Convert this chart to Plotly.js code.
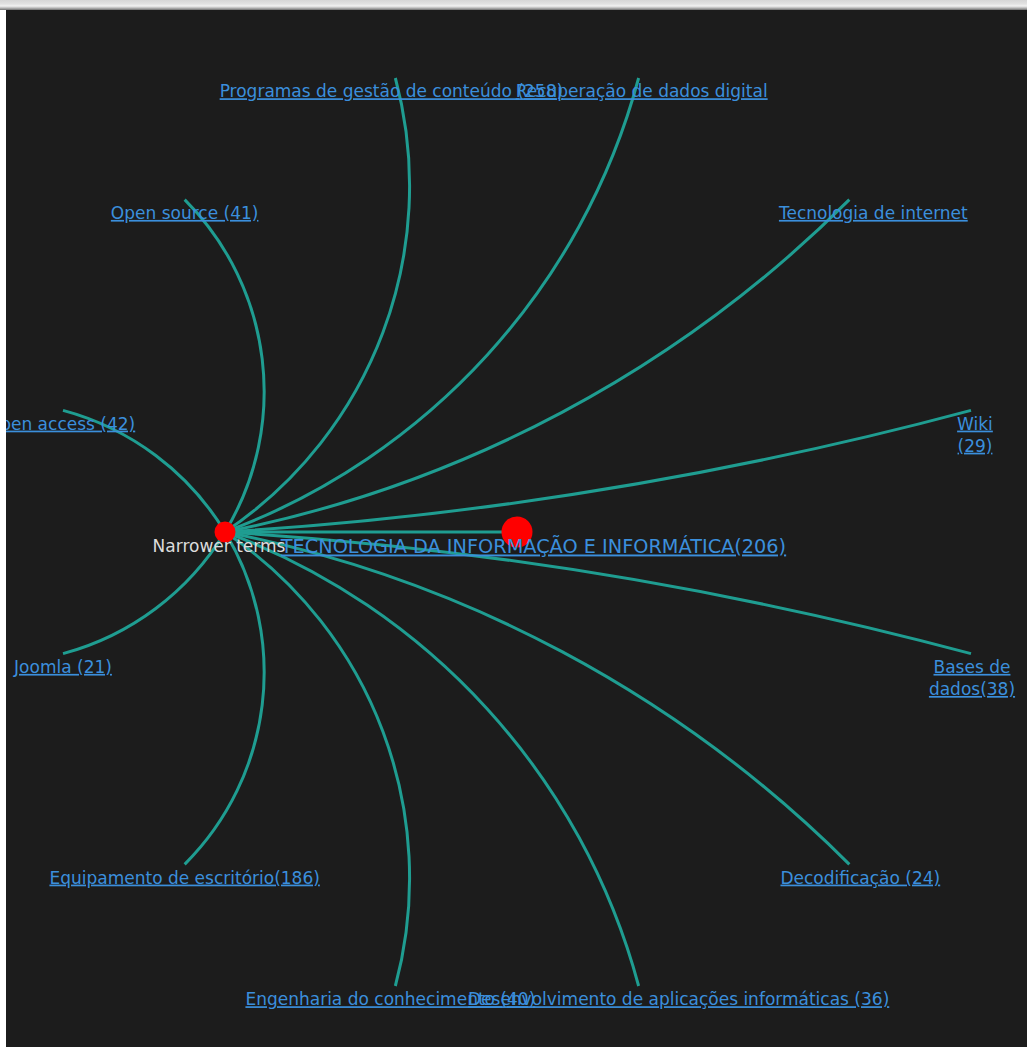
<!DOCTYPE html>
<html>
<head>
<meta charset="utf-8">
<script src="https://cdn.plot.ly/plotly-3.0.1.min.js"></script>
<style>
html,body{margin:0;padding:0;background:#ffffff;width:1027px;height:1047px;overflow:hidden;}
#bar{position:absolute;left:0;top:0;width:1027px;height:10px;background:linear-gradient(#d6d6d6 0px,#e2e2e2 4px,#f2f2f2 6px,#b8b8b8 8px,#707070 10px);}
#chart{position:absolute;left:6px;top:10px;width:1021px;height:1037px;}
</style>
</head>
<body>
<div id="bar"></div>
<div id="chart"></div>
<script>
// ---- data ----
const rootTerm = "TECNOLOGIA DA INFORMAÇÃO E INFORMÁTICA";
const rootCount = 206;
const hubTerm = "Narrower terms";
const terms = [
  "Programas de gestão de conteúdo",
  "Recuperação de dados digital",
  "Tecnologia de internet",
  "Wiki",
  "Bases de dados",
  "Decodificação",
  "Desenvolvimento de aplicações informáticas",
  "Engenharia do conhecimento",
  "Equipamento de escritório",
  "Joomla",
  "Open access",
  "Open source"
];
const counts = [258, null, null, 29, 38, 24, 36, 40, 186, 21, 42, 41];

// ---- layout (pixel frame of the page) ----
const ROOT = [517, 532], HUB = [225, 532];
const RADIUS = 470, START_DEG = -15, STEP_DEG = 30;
const EDGE = "#1f9d91", LINK = "#3b8fdc", FONT = "DejaVu Sans";
const sepBefore = [" ", "", "", "<br>", "", " ", " ", " ", "", " ", " ", " "];
const termBreaks = {4: "Bases de<br>dados"};
const labelDx = [-4, 3, 24, 4, 1, 11, 40, -5, 0, 0, -2, 0];
const LABEL_DY = 6.5;

const leaves = terms.map((t, i) => {
  const a = (START_DEG + STEP_DEG * i) * Math.PI / 180;
  return [ROOT[0] + RADIUS * Math.sin(a), ROOT[1] - RADIUS * Math.cos(a)];
});
const labels = terms.map((t, i) =>
  (termBreaks[i] || t) + (counts[i] != null ? sepBefore[i] + "(" + counts[i] + ")" : ""));

// circular arc from hub to leaf, tangent to the radial direction at the leaf,
// drawn as a cubic Bezier approximation
function arcPath(P, L) {
  const cx = L[0] - P[0], cy = L[1] - P[1];
  const c = Math.hypot(cx, cy);
  const alpha = Math.atan2(cy, cx);
  const beta = Math.atan2(L[1] - ROOT[1], L[0] - ROOT[0]);
  let d = alpha - beta;
  while (d > Math.PI) d -= 2 * Math.PI;
  while (d < -Math.PI) d += 2 * Math.PI;
  const ad = Math.abs(d);
  const h = ad < 1e-6 ? c / 3 : (4 / 3) * Math.tan(ad / 2) * c / (2 * Math.sin(ad));
  const s = alpha + d;
  const c1 = [P[0] + h * Math.cos(s), P[1] + h * Math.sin(s)];
  const c2 = [L[0] - h * Math.cos(beta), L[1] - h * Math.sin(beta)];
  return `M ${P[0]},${P[1]} C ${c1[0]},${c1[1]} ${c2[0]},${c2[1]} ${L[0]},${L[1]}`;
}

const shapes = [{
  type: "line", xref: "x", yref: "y", layer: "below",
  x0: HUB[0], y0: HUB[1], x1: ROOT[0], y1: ROOT[1],
  line: {color: EDGE, width: 3}
}];
leaves.forEach(p => {
  shapes.push({
    type: "path", xref: "x", yref: "y", layer: "below",
    path: arcPath(HUB, p),
    line: {color: EDGE, width: 3}
  });
});

const traces = [
  {
    type: "scatter", mode: "markers", hoverinfo: "skip", opacity: 1,
    x: [ROOT[0], HUB[0]], y: [ROOT[1], HUB[1]],
    marker: {color: "rgb(255,0,0)", opacity: 1, size: [31, 21], line: {width: 0}}
  },
  {
    type: "scatter", mode: "text", hoverinfo: "skip", cliponaxis: true,
    x: leaves.map((p, i) => p[0] + labelDx[i]),
    y: leaves.map(p => p[1] + LABEL_DY),
    text: labels, textposition: "bottom center",
    textfont: {family: FONT, size: 17, color: LINK, lineposition: "under"}
  },
  {
    type: "scatter", mode: "text", hoverinfo: "skip",
    x: [HUB[0] - 6], y: [HUB[1] + 7],
    text: [hubTerm], textposition: "bottom center",
    textfont: {family: FONT, size: 17, color: "#dcdcdc"}
  },
  {
    type: "scatter", mode: "text", hoverinfo: "skip",
    x: [ROOT[0] + 16.5], y: [ROOT[1] + 7],
    text: [rootTerm + "(" + rootCount + ")"], textposition: "bottom center",
    textfont: {family: FONT, size: 19.3, color: LINK, lineposition: "under"}
  }
];

const layout = {
  width: 1021, height: 1037,
  margin: {l: 0, r: 0, t: 0, b: 0, pad: 0},
  paper_bgcolor: "#1c1c1c", plot_bgcolor: "#1c1c1c",
  showlegend: false,
  xaxis: {range: [6, 1027], visible: false, fixedrange: true},
  yaxis: {range: [1047, 10], visible: false, fixedrange: true},
  shapes: shapes
};
Plotly.newPlot("chart", traces, layout, {displayModeBar: false, staticPlot: true});
</script>
</body>
</html>
